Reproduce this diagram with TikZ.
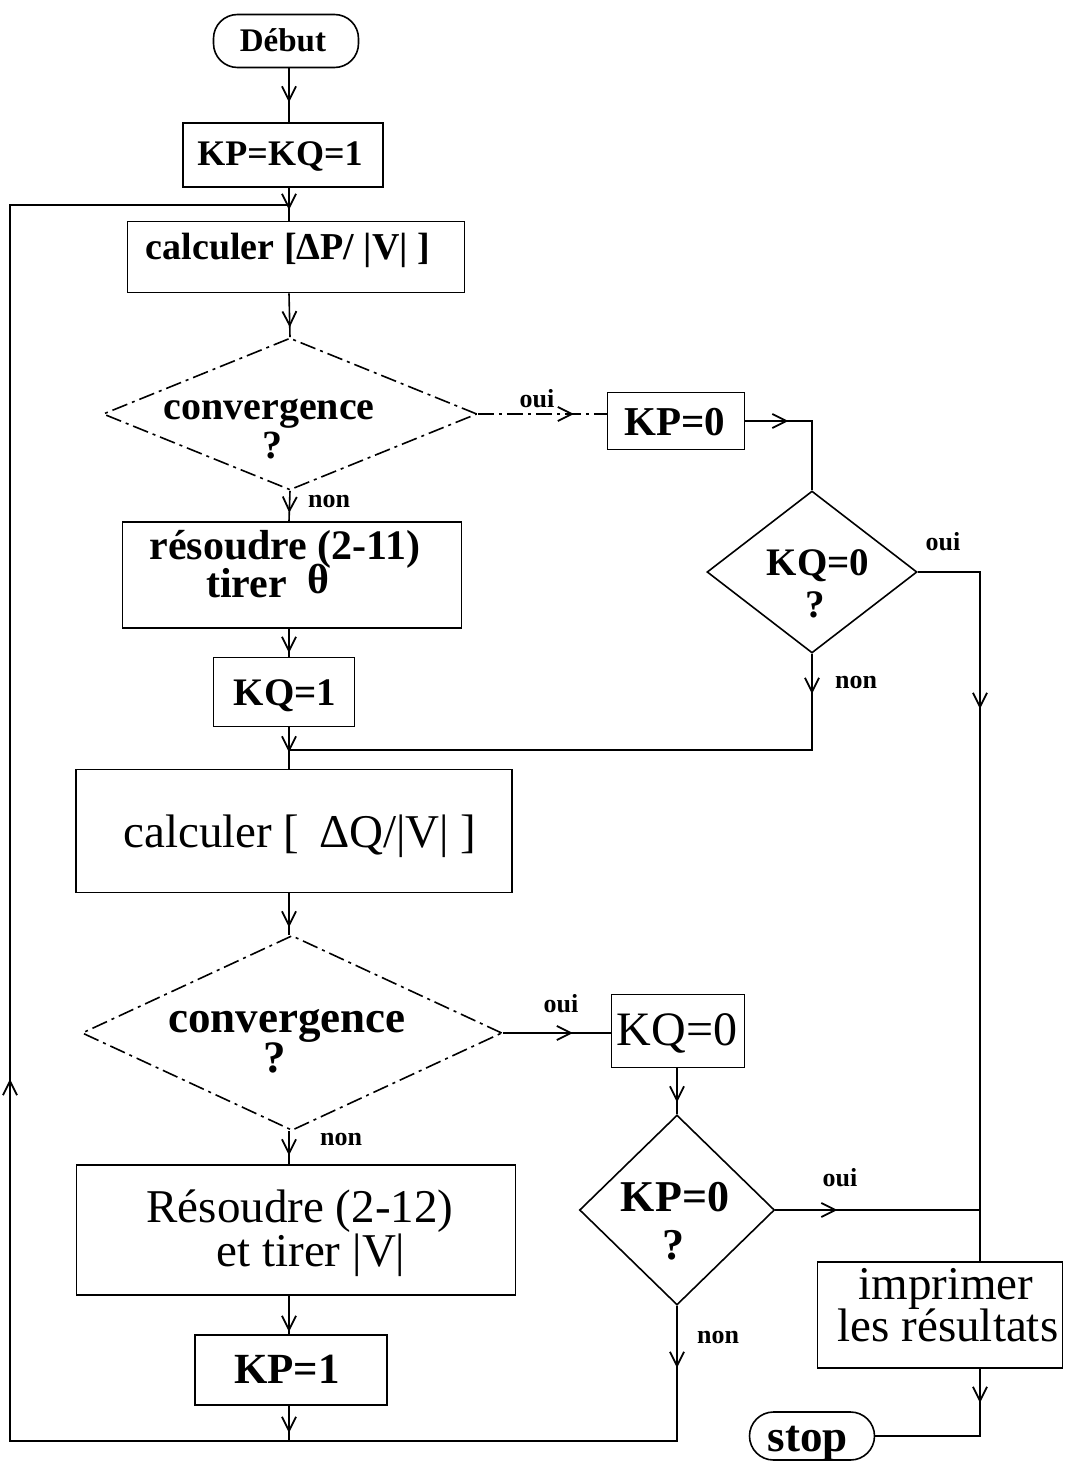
\documentclass[tikz,border=0pt]{standalone}
\usepackage{fontspec}
\setmainfont{Liberation Serif}
\usetikzlibrary{shapes.geometric,arrows.meta,decorations.markings}
\newcommand\myfs[2]{\fontsize{#1}{#2}\selectfont}
\tikzset{
  lw/.style={line width=1.6pt},
  box/.style={draw, rectangle, inner sep=0pt, lw},
  dia/.style={draw, diamond, inner sep=0pt, lw},
  term/.style={draw, rectangle, rounded corners=24pt, inner sep=0pt, lw},
  faded/.style={dash pattern=on 16pt off 5pt on 3pt off 5pt},
  conn/.style={lw},
  arr/.style={postaction={decorate}, decoration={markings,
      mark=at position #1 with {\arrow{Straight Barb[length=14pt,width=14pt,line width=1.8pt]}}}},
  arrtwo/.style 2 args={postaction={decorate}, decoration={markings,
      mark=at position #1 with {\arrow{Straight Barb[length=14pt,width=14pt,line width=1.8pt]}},
      mark=at position #2 with {\arrow{Straight Barb[length=14pt,width=14pt,line width=1.8pt]}}}},
  lbl/.style={font=\bfseries\myfs{26}{28}, inner sep=0pt, anchor=base},
  txt/.style={inner sep=0pt, anchor=base},
}
\begin{document}
\begin{tikzpicture}[x=1pt,y=-1pt]
\fill[white] (0,0) rectangle (1069,1466);
\useasboundingbox (0,0) rectangle (1069,1466);

% helper coordinates
\coordinate (cx) at (289,0);
\coordinate (rx) at (980,0);
\coordinate (j1) at (289,750);
\coordinate (jt) at (289,205);
\coordinate (tl) at (10,205);
\coordinate (bl) at (10,1441);
\coordinate (jb) at (289,1441);

% ---- left column ----
\node[term, minimum width=145pt, minimum height=53pt] (deb) at (286,41) {};
\node[txt, font=\bfseries\myfs{33}{36}] (debt) at (283,52) {Début};

\node[box, minimum width=200pt, minimum height=64pt] (k1) at (283,155) {};
\node[txt, font=\bfseries\myfs{36}{40}] (k1t) at (280,166) {KP=KQ=1};

\node[box, minimum width=337pt, minimum height=71pt] (c1) at (296,257) {};
\node[txt, font=\bfseries\myfs{38}{40}] (c1t) at (288,259) {calculer [ΔP/ |V| ]};

\node[dia, faded, minimum width=374pt, minimum height=152pt] (d1) at (290,414) {};
\node[txt, font=\bfseries\myfs{40}{40}] (d1a) at (269,419) {convergence};
\node[txt, font=\bfseries\myfs{40}{40}] (d1b) at (272,458) {?};

\node[box, minimum width=339pt, minimum height=106pt] (r1) at (292,575) {};
\node[txt, font=\bfseries\myfs{42}{44}] (r1a) at (285,559) {résoudre (2-11)};
\node[txt, font=\bfseries\myfs{42}{44}] (r1b) at (268,597) {tirer~~\raisebox{4pt}{θ}};

\node[box, minimum width=141pt, minimum height=69pt] (q1) at (284,692) {};
\node[txt, font=\bfseries\myfs{39}{40}] (q1t) at (285,705) {KQ=1};

\node[box, minimum width=436pt, minimum height=123pt] (c2) at (294,831) {};
\node[txt, font=\myfs{47}{48}] (c2t) at (300,847) {calculer [ \,ΔQ/|V| ]};

\node[dia, faded, minimum width=420pt, minimum height=195pt] (d2) at (292,1033) {};
\node[txt, font=\bfseries\myfs{45}{46}] (d2a) at (287,1032) {convergence};
\node[txt, font=\bfseries\myfs{45}{46}] (d2b) at (275,1072) {?};

\node[box, minimum width=439pt, minimum height=130pt] (r2) at (296,1230) {};
\node[txt, font=\myfs{47}{48}] (r2a) at (300,1222) {Résoudre (2-12)};
\node[txt, font=\myfs{47}{48}] (r2b) at (311,1266) {et tirer\hspace{12pt}|V|};

\node[box, minimum width=192pt, minimum height=70pt] (kp1) at (291,1370) {};
\node[txt, font=\bfseries\myfs{43}{44}] (kp1t) at (287,1383) {KP=1};

% ---- right part ----
\node[box, minimum width=137pt, minimum height=57pt] (kp0) at (676,421) {};
\node[txt, font=\bfseries\myfs{41}{42}] (kp0t) at (675,435) {KP=0};

\node[dia, minimum width=210pt, minimum height=162pt] (dq) at (812,572) {};
\node[txt, font=\bfseries\myfs{39}{40}] (dqa) at (818,575) {KQ=0};
\node[txt, font=\bfseries\myfs{39}{40}] (dqb) at (815,617) {?};

\node[box, minimum width=133pt, minimum height=73pt] (kq0b) at (678,1031) {};
\node[txt, font=\myfs{48}{48}] (kq0t) at (677,1045) {KQ=0};

\node[dia, minimum width=195pt, minimum height=190pt] (dp) at (677,1210) {};
\node[txt, font=\bfseries\myfs{44}{44}] (dpa) at (675,1211) {KP=0};
\node[txt, font=\bfseries\myfs{44}{44}] (dpb) at (673,1259) {?};

\node[box, minimum width=245pt, minimum height=106pt] (imp) at (940,1315) {};
\node[txt, font=\myfs{47}{48}] (impa) at (946,1299) {imprimer};
\node[txt, font=\myfs{47}{48}] (impb) at (948,1341) {les résultats};

\node[term, minimum width=125pt, minimum height=48pt] (stop) at (812,1436) {};
\node[txt, font=\bfseries\myfs{45}{46}] (stopt) at (808,1451) {stop};

% ---- connectors ----
\draw[conn, arr=34pt] (cx |- deb.south) -- (cx |- k1.north);
\draw[conn, arr=22pt] (cx |- k1.south) -- (cx |- c1.north);
\draw[conn, arr=34pt] (cx |- c1.south) -- (d1.north);
\draw[conn, arr=22pt] (d1.south) -- (cx |- r1.north);
\draw[conn, arr=24pt] (cx |- r1.south) -- (cx |- q1.north);
\draw[conn, arr=25pt] (cx |- q1.south) -- (cx |- c2.north);
\draw[conn, arr=34pt] (cx |- c2.south) -- (cx |- d2.north);
\draw[conn, arr=24pt] (cx |- d2.south) -- (cx |- r2.north);
\draw[conn, arr=36pt] (cx |- r2.south) -- (cx |- kp1.north);
\draw[conn, arr=27pt] (cx |- kp1.south) -- (jb);

\draw[conn, faded, arr=96pt] (d1.east) -- (d1.east -| kp0.west);
\draw[conn, arr=43pt] (kp0.east) -- (kp0.east -| dq.north) -- (dq.north);
\draw[conn, arr=199pt] (dq.east) -- (dq.east -| rx) -- (rx |- imp.north);
\draw[conn, arr=40pt] (dq.south) -- (dq.south |- j1) -- (j1);

\draw[conn, arr=70pt] (d2.east) -- (d2.east -| kq0b.west);
\draw[conn, arr=34pt] (kq0b.south -| dp.north) -- (dp.north);
\draw[conn, arr=62pt] (dp.east) -- (dp.east -| rx);
\draw[conn, arrtwo={62pt}{1164pt}] (dp.south) -- (dp.south |- bl) -- (bl) -- (tl) -- (jt);
\draw[conn, arr=34pt] (rx |- imp.south) -- (rx |- stop) -- (stop.east);

% ---- labels ----
\node[lbl] (l1) at (537,407) {oui};
\node[lbl] (l2) at (329,507) {non};
\node[lbl] (l3) at (943,550) {oui};
\node[lbl] (l4) at (856,688) {non};
\node[lbl] (l5) at (561,1012) {oui};
\node[lbl] (l6) at (341,1145) {non};
\node[lbl] (l7) at (840,1186) {oui};
\node[lbl] (l8) at (718,1343) {non};
\end{tikzpicture}
\end{document}
